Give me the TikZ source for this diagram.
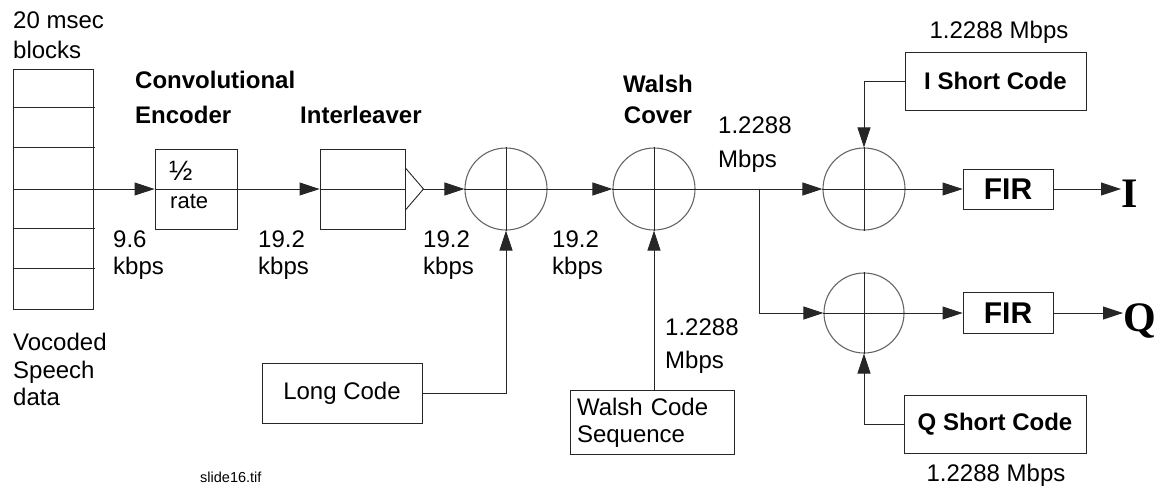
\documentclass[tikz,border=0pt]{standalone}
\usepackage{fontspec}
\setmainfont{Liberation Sans}
\newfontfamily\serifbf{Liberation Serif}
\usetikzlibrary{arrows.meta,calc}
\begin{document}
\begin{tikzpicture}[x=1pt,y=-1pt,
  ln/.style={draw=black!85, line width=0.9pt},
  arr/.style={ln, -{Triangle[length=20pt,width=13pt]}},
  boxs/.style={draw=black!85, line width=0.9pt, rectangle, inner sep=2pt},
  sum/.style={circle, draw=black!60, line width=1.1pt, minimum size=82pt, inner sep=0pt},
  txt/.style={font=\fontsize{24}{28}\selectfont, inner sep=0pt, anchor=base west},
  btxt/.style={font=\bfseries\fontsize{24}{28}\selectfont, inner sep=0pt, anchor=base west},
  ctxt/.style={font=\fontsize{24}{28}\selectfont, inner sep=0pt, anchor=base},
  bctxt/.style={font=\bfseries\fontsize{24}{28}\selectfont, inner sep=0pt, anchor=base},
  iq/.style={font=\serifbf\bfseries\fontsize{42}{46}\selectfont, inner sep=0pt, anchor=base west}
]
\useasboundingbox (0,0) rectangle (1155,485);

% speech block stack
\node[boxs, minimum width=80pt, minimum height=240pt] (stack) at (53,189) {};
\foreach \yy in {107,147,228,268} \draw[ln] (13,\yy) -- (95,\yy);

% encoder & interleaver
\node[boxs, minimum width=82pt, minimum height=80pt] (enc) at (196,189) {};
\node[boxs, minimum width=85pt, minimum height=80pt] (il) at (362.5,189) {};
\node[txt, font=\fontsize{28}{30}\selectfont] (half) at (169,180) {½};
\node[txt, font=\fontsize{22}{26}\selectfont] (rate) at (170,208) {rate};
\coordinate (tri) at ($(il.east)+(18,0)$);
\draw[ln] ($(il.east)+(0,-21)$) -- (tri) -- ($(il.east)+(0,21)$);

% summing circles
\node[sum] (c1) at (506,189) {};
\node[sum] (c2) at (654,189) {};
\node[sum] (c3) at (864,189) {};
\node[sum, minimum size=80pt] (c4) at (864,313) {};
\foreach \c in {c1,c2,c3,c4} {
  \draw[ln] (\c.north) -- (\c.south);
  \draw[ln] (\c.west) -- (\c.east);
}

% FIR boxes
\node[boxs, minimum width=90pt, minimum height=40pt, font=\bfseries\fontsize{30}{34}\selectfont] (fir1) at (1008,189) {FIR};
\node[boxs, minimum width=90pt, minimum height=41pt, font=\bfseries\fontsize{30}{34}\selectfont] (fir2) at (1008,313) {FIR};
\node[iq] (Ilbl) at (1121,207) {I};
\node[iq] (Qlbl) at (1123,331) {Q};

% code boxes
\node[boxs, minimum width=181pt, minimum height=58pt, font=\bfseries\fontsize{24}{28}\selectfont] (isc) at (995.5,81) {I Short Code};
\node[boxs, minimum width=182pt, minimum height=58pt, font=\bfseries\fontsize{24}{28}\selectfont] (qsc) at (995,424) {Q Short Code};
\node[boxs, minimum width=160pt, minimum height=60pt, font=\fontsize{24}{28}\selectfont] (lc) at (342,393) {Long Code};
\node[boxs, minimum height=59pt, text width=150pt, inner sep=7pt, align=left, font=\fontsize{24}{27}\selectfont] (wcs) at (652,422.5) {Walsh Code\\Sequence};

% connectors
\draw[arr] (stack.west) -- (enc.west);
\draw[ln] (enc.west) -- (enc.east);
\draw[arr] (enc.east) -- (il.west);
\draw[ln] (il.west) -- (il.east);
\draw[arr] (tri) -- (c1.west);
\draw[arr] (c1.east) -- (c2.west);
\draw[arr] (c2.east) -- (c3.west);
\coordinate (br) at (759,189);
\draw[arr] (br) |- (c4.west);
\draw[arr] (c3.east) -- (fir1.west);
\draw[arr] (c4.east) -- (fir2.west);
\draw[arr] (fir1.east) -- (fir1.east -| Ilbl.west);
\draw[arr] (fir2.east) -- (fir2.east -| Qlbl.west);
\draw[arr] (isc.west) -| (c3.north);
\draw[arr] (qsc.west) -| (c4.south);
\draw[arr] (lc.east) -| (c1.south);
\draw[arr] (c2.south |- wcs.north) -- (c2.south);

% labels
\node[txt] (t20a) at (13,28) {20 msec};
\node[txt] (t20b) at (13,58) {blocks};
\node[btxt] (conv) at (135,88) {Convolutional};
\node[btxt] (encl) at (135,123) {Encoder};
\node[btxt] (ill) at (300,123) {Interleaver};
\node[bctxt] (wa) at (658,92) {Walsh};
\node[bctxt] (wb) at (658,123) {Cover};
\node[txt] (ra1) at (113,247) {9.6};
\node[txt] (ra2) at (113,274) {kbps};
\node[txt] (rb1) at (258,247) {19.2};
\node[txt] (rb2) at (258,274) {kbps};
\node[txt] (rc1) at (423,247) {19.2};
\node[txt] (rc2) at (423,274) {kbps};
\node[txt] (rd1) at (552,247) {19.2};
\node[txt] (rd2) at (552,274) {kbps};
\node[txt] (re1) at (718,133) {1.2288};
\node[txt] (re2) at (718,167) {Mbps};
\node[txt] (rf1) at (665,335) {1.2288};
\node[txt] (rf2) at (665,368) {Mbps};
\node[ctxt] (rg) at (999,38) {1.2288 Mbps};
\node[ctxt] (rh) at (996,481) {1.2288 Mbps};
\node[txt] (v1) at (13,350) {Vocoded};
\node[txt] (v2) at (13,378) {Speech};
\node[txt] (v3) at (13,405) {data};
\node[txt, font=\fontsize{14.5}{17}\selectfont] (sl) at (200,482) {slide16.tif};
\end{tikzpicture}
\end{document}
